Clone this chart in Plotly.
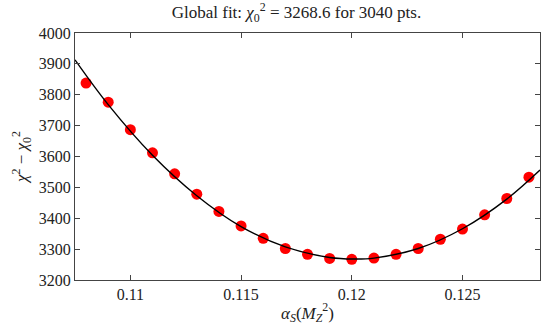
import plotly.graph_objects as go

# red points: chi^2 scan over alpha_s
alpha_s = [0.108, 0.109, 0.110, 0.111, 0.112, 0.113, 0.114, 0.115, 0.116, 0.117, 0.118,
           0.119, 0.120, 0.121, 0.122, 0.123, 0.124, 0.125, 0.126, 0.127, 0.128]
chi2 = [3838, 3776, 3687, 3612, 3544, 3478, 3422, 3375, 3335, 3302, 3283,
        3270, 3267, 3271, 3283, 3302, 3332, 3365, 3411, 3464, 3533]

# black fit curve
fit_x = [0.1075, 0.109, 0.111, 0.113, 0.115, 0.117, 0.119, 0.1201, 0.121, 0.123, 0.125, 0.127, 0.1285]
fit_y = [3913, 3768, 3604, 3473, 3373, 3307, 3273, 3268, 3271, 3302, 3366, 3462, 3556]

x_ticks = [0.11, 0.115, 0.12, 0.125]
x_tick_labels = ["0.11", "0.115", "0.12", "0.125"]
y_ticks = [3200, 3300, 3400, 3500, 3600, 3700, 3800, 3900, 4000]

font = "Liberation Serif"

fig = go.Figure()

fig.add_trace(go.Scatter(x=alpha_s, y=chi2, mode='markers',
                         marker=dict(color='#ff0000', size=11), name='scan'))
fig.add_trace(go.Scatter(x=fit_x, y=fit_y, mode='lines', line_shape='spline',
                         line=dict(color='black', width=1.4), name='fit'))

axis_style = dict(showline=True, linecolor='#444', linewidth=1, mirror='ticks',
                  ticks='inside', ticklen=5, tickcolor='#444', showgrid=False,
                  zeroline=False, tickfont=dict(family=font, size=16, color='#222'))

fig.update_layout(
    width=541, height=327,
    margin=dict(l=75, r=1, t=33, b=47),
    paper_bgcolor='white', plot_bgcolor='white',
    showlegend=False,
    title=dict(text="Global fit: <i>χ</i><sub>0</sub><sup>2</sup> = 3268.6 for 3040 pts.",
               x=0.548, xanchor='center', y=0.962, yanchor='middle',
               font=dict(family=font, size=17, color='#222')),
    xaxis=dict(range=[0.1075, 0.1285], tickvals=x_ticks, ticktext=x_tick_labels,
               title=dict(text="<i>α<sub>S</sub></i>(<i>M</i><sub><i>Z</i></sub><sup>2</sup>)",
                          font=dict(family=font, size=17, color='#222'), standoff=4),
               **axis_style),
    yaxis=dict(range=[3200, 4000], tickvals=y_ticks,
               title=dict(text="<i>χ</i><sup>2</sup> − <i>χ</i><sub>0</sub><sup>2</sup>",
                          font=dict(family=font, size=17, color='#222'), standoff=6),
               **axis_style),
)

fig.write_html("out.html", config={'displayModeBar': False},
               post_script="document.body.style.margin='0';")
